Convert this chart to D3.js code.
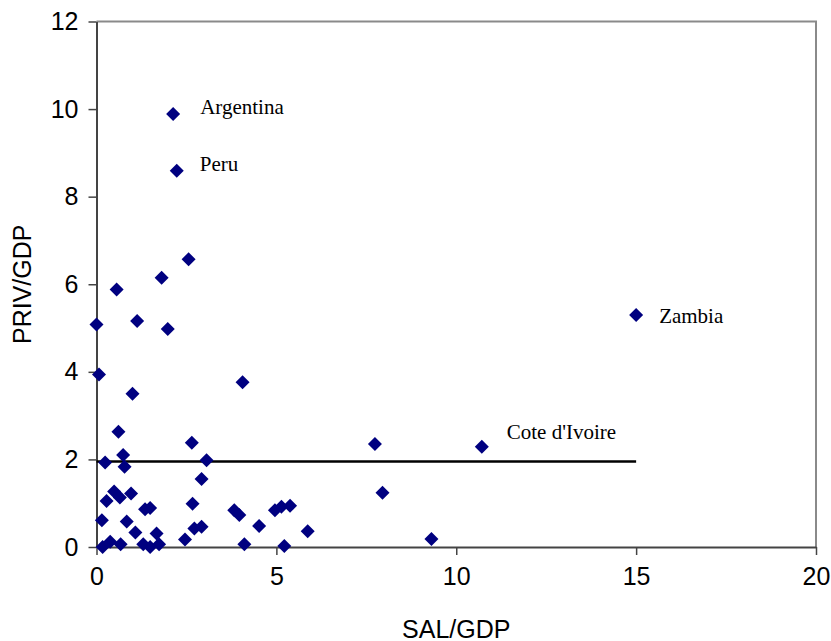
<!DOCTYPE html>
<html>
<head>
<meta charset="utf-8">
<script src="https://cdn.jsdelivr.net/npm/d3@7"></script>
<style>
  body { margin: 0; background: #fff; }
  .tick text { font-family: "Liberation Sans", Arial, sans-serif; font-size: 25px; fill: #000; }
  .ttl { font-family: "Liberation Sans", Arial, sans-serif; font-size: 25px; fill: #000; }
  .lbl { font-family: "Liberation Serif", "Times New Roman", serif; font-size: 21px; fill: #000; }
</style>
</head>
<body>
<svg id="chart" width="831" height="641"></svg>
<script>
// SAL/GDP (x) and PRIV/GDP (y) per country
var salGdp  = [2.13, 2.23, 2.56, 1.81, 0.56, 15.0, 0.0, 1.13, 1.98, 0.07,
               4.06, 1.00, 0.61, 2.65, 7.74, 10.71, 0.74, 0.24, 0.78, 3.06,
               2.92, 7.95, 0.49, 0.65, 0.96, 0.28, 2.67, 1.35, 1.49, 3.83,
               3.97, 4.96, 5.14, 5.38, 0.15, 0.84, 2.72, 2.92, 4.52, 1.08,
               1.67, 5.87, 2.46, 9.31, 0.17, 0.38, 0.67, 1.30, 1.49, 1.74,
               4.11, 5.22];
var privGdp = [9.89, 8.59, 6.57, 6.15, 5.88, 5.30, 5.08, 5.16, 4.98, 3.94,
               3.76, 3.50, 2.63, 2.38, 2.35, 2.29, 2.10, 1.93, 1.83, 1.98,
               1.55, 1.24, 1.27, 1.13, 1.22, 1.05, 0.99, 0.86, 0.89, 0.84,
               0.73, 0.84, 0.92, 0.94, 0.61, 0.58, 0.42, 0.46, 0.48, 0.33,
               0.31, 0.36, 0.17, 0.18, 0.00, 0.12, 0.06, 0.06, 0.00, 0.06,
               0.06, 0.02];

var labelNames = ["Argentina", "Peru", "Zambia", "Cote d'Ivoire"];
var labelIndex = [0, 1, 5, 15];

var xTicks = [0, 5, 10, 15, 20];
var yTicks = [0, 2, 4, 6, 8, 10, 12];

// horizontal reference line (average)
var refLineX = [0, 15];
var refLineY = 1.95;

var svg = d3.select("#chart");
var mLeft = 96.5, mRight = 816, mTop = 21.5, mBottom = 547;

var x = d3.scaleLinear().domain([0, 20]).range([mLeft, mRight]);
var y = d3.scaleLinear().domain([0, 12]).range([mBottom, mTop]);

// frame top/right
svg.append("path")
    .attr("d", "M" + mLeft + "," + mTop + "H" + mRight + "V" + mBottom)
    .attr("fill", "none").attr("stroke", "#8a8a8a").attr("stroke-width", 2);

var xAxis = svg.append("g")
    .attr("transform", "translate(0," + mBottom + ")")
    .call(d3.axisBottom(x).tickValues(xTicks).tickSize(8).tickPadding(12).tickSizeOuter(0));
var yAxis = svg.append("g")
    .attr("transform", "translate(" + mLeft + ",0)")
    .call(d3.axisLeft(y).tickValues(yTicks).tickSize(8).tickPadding(10).tickSizeOuter(0));

[xAxis, yAxis].forEach(function(a) {
  a.select(".domain").attr("stroke", "#444").attr("stroke-width", 2);
  a.selectAll(".tick line").attr("stroke", "#444").attr("stroke-width", 1.5);
});

// reference line
svg.append("line")
    .attr("x1", x(refLineX[0])).attr("x2", x(refLineX[1]))
    .attr("y1", y(refLineY)).attr("y2", y(refLineY))
    .attr("stroke", "#000").attr("stroke-width", 2.5);

// points
var diamond = "M0,-7L7,0L0,7L-7,0Z";
svg.append("g").selectAll("path")
    .data(salGdp)
    .enter().append("path")
    .attr("d", diamond)
    .attr("fill", "#000080")
    .attr("transform", function(d, i) { return "translate(" + x(d) + "," + y(privGdp[i]) + ")"; });

// country labels
var labelOffset = [[27, 0], [23, 0], [23, 8], [25, -8]];
svg.append("g").selectAll("text")
    .data(labelNames)
    .enter().append("text")
    .attr("class", "lbl")
    .attr("x", function(d, i) { return x(salGdp[labelIndex[i]]) + labelOffset[i][0]; })
    .attr("y", function(d, i) { return y(privGdp[labelIndex[i]]) + labelOffset[i][1]; })
    .text(function(d) { return d; });

// axis titles
svg.append("text").attr("class", "ttl")
    .attr("x", (mLeft + mRight) / 2).attr("y", 638)
    .attr("text-anchor", "middle")
    .text("SAL/GDP");
svg.append("text").attr("class", "ttl")
    .attr("transform", "translate(31," + (mTop + mBottom) / 2 + ") rotate(-90)")
    .attr("text-anchor", "middle")
    .text("PRIV/GDP");
</script>
</body>
</html>
